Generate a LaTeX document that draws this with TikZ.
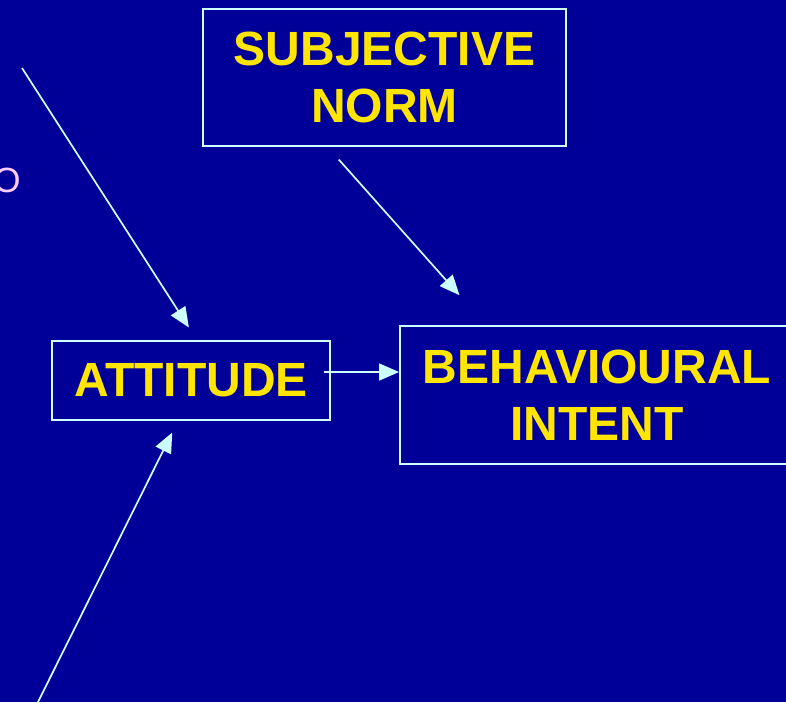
\documentclass[tikz,border=0pt]{standalone}
\usepackage{fontspec}
\setmainfont{Liberation Sans}
\usetikzlibrary{arrows.meta}
\definecolor{slidebg}{HTML}{000099}
\definecolor{boxline}{HTML}{CCFFFF}
\definecolor{labelyellow}{HTML}{FFE500}
\definecolor{pinktext}{HTML}{FFCCFF}
\tikzset{
  box/.style={draw=boxline,line width=1.8pt,inner sep=0pt,align=center,
    text=labelyellow,font=\bfseries\fontsize{48}{57}\selectfont},
  conn/.style={draw=boxline,line width=1.7pt,-{Triangle[length=20pt,width=17pt]}}
}
\begin{document}
\begin{tikzpicture}[x=1pt,y=-1pt]
% Background
\useasboundingbox (0,0) rectangle (786,702);
\fill[slidebg] (0,0) rectangle (786,702);

% Subjective norm
\node[box,minimum width=363pt,minimum height=137pt] (norm) at (384.5,77.5) {SUBJECTIVE\\NORM};

% Attitude
\node[box,minimum width=278pt,minimum height=79pt] (att) at (191,380.5) {ATTITUDE};

% Behavioural intent
\node[box,minimum width=394pt,minimum height=138pt] (beh) at (597,395) {BEHAVIOURAL\\INTENT};

% Cut-off letter
\node[anchor=base east,inner sep=0pt,text=pinktext,font=\fontsize{35}{40}\selectfont] (cut) at (20.7,192) {O};

% Free ends
\coordinate (srcTop) at (22,68);
\coordinate (srcBot) at (34,710);

% Arrows
\draw[conn,shorten >=15pt] (srcTop) -- ([xshift=6pt]att.north);
\draw[conn,shorten <=17pt,shorten >=40pt] ([xshift=-57pt]norm.south) -- ([xshift=87pt]beh.north west);
\draw[conn] ([xshift=-7pt,yshift=8.5pt]att.east) -- ([yshift=23pt]beh.west);
\draw[conn,shorten >=13pt] (srcBot) -- ([xshift=-13pt]att.south);
\end{tikzpicture}
\end{document}
